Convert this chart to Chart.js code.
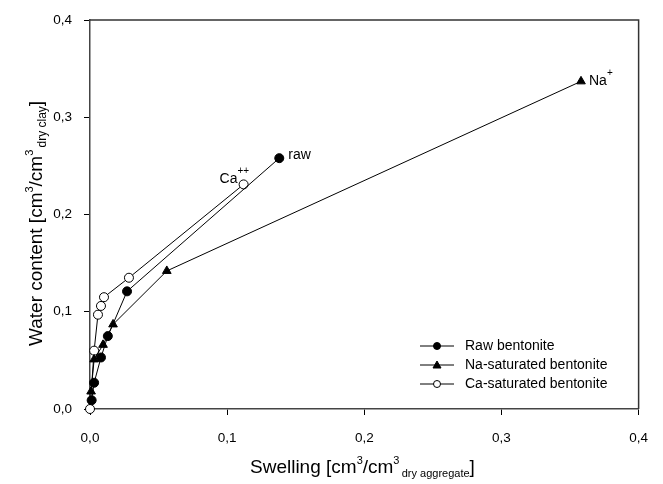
<!DOCTYPE html>
<html>
<head>
<meta charset="utf-8">
<script src="https://cdn.jsdelivr.net/npm/chart.js@4"></script>
<style>
  html, body { margin: 0; padding: 0; background: #fff; }
  #wrap { width: 663px; height: 484px; }
</style>
</head>
<body>
<div id="wrap"><canvas id="chart" width="663" height="484"></canvas></div>
<script>
// data (swelling x, water content y)
const rawX = [0.0012, 0.003, 0.008, 0.013, 0.027, 0.138];
const rawY = [0.009, 0.027, 0.053, 0.075, 0.121, 0.258];
const naX = [0.0008, 0.003, 0.0095, 0.0168, 0.056, 0.358];
const naY = [0.018, 0.051, 0.066, 0.087, 0.142, 0.337];
const caX = [0.0, 0.003, 0.0058, 0.008, 0.0102, 0.0284, 0.112];
const caY = [0.0, 0.060, 0.097, 0.106, 0.115, 0.135, 0.231];
const seriesNames = ['Raw bentonite', 'Na-saturated bentonite', 'Ca-saturated bentonite'];
const endLabels = ['raw', 'Na', 'Ca'];
const axisMin = 0, axisMax = 0.4, axisStep = 0.1;

const FONT = 'Arial, "Liberation Sans", sans-serif';

function pts(xs, ys) {
    return xs.map((x, i) => ({ x: x, y: ys[i] }));
}

// draw a run of text pieces with super/subscripts
function richText(ctx, x, y, parts) {
    parts.forEach(p => {
        ctx.font = p.size + 'px ' + FONT;
        ctx.fillText(p.t, x, y + (p.dy || 0));
        x += ctx.measureText(p.t).width;
    });
}

const extras = {
    id: 'extras',
    afterDraw(chart) {
        const ctx = chart.ctx;
        const a = chart.chartArea;
        const xs = chart.scales.x, ys = chart.scales.y;
        ctx.save();

        // top and right frame
        ctx.strokeStyle = '#333';
        ctx.lineWidth = 1.5;
        ctx.beginPath();
        ctx.moveTo(a.left, a.top);
        ctx.lineTo(a.right, a.top);
        ctx.lineTo(a.right, a.bottom);
        ctx.stroke();

        ctx.fillStyle = '#000';
        ctx.textBaseline = 'alphabetic';
        ctx.textAlign = 'left';

        // x title
        richText(ctx, 250, 473, [
            { t: 'Swelling [cm', size: 19 },
            { t: '3', size: 11, dy: -9 },
            { t: '/cm', size: 19 },
            { t: '3', size: 11, dy: -9 },
            { t: ' ', size: 8 },
            { t: 'dry aggregate', size: 11, dy: 4 },
            { t: ']', size: 19 }
        ]);

        // y title (rotated)
        ctx.save();
        ctx.translate(42, 346);
        ctx.rotate(-Math.PI / 2);
        richText(ctx, 0, 0, [
            { t: 'Water content [cm', size: 19 },
            { t: '3', size: 11, dy: -9 },
            { t: '/cm', size: 19 },
            { t: '3', size: 11, dy: -9 },
            { t: ' ', size: 8 },
            { t: 'dry clay', size: 12, dy: 4 },
            { t: ']', size: 19 }
        ]);
        ctx.restore();

        // labels at the end of each curve
        const last = i => {
            const d = chart.data.datasets[i].data;
            const p = d[d.length - 1];
            return [xs.getPixelForValue(p.x), ys.getPixelForValue(p.y)];
        };
        let [px, py] = last(0);
        richText(ctx, px + 9, py + 1, [{ t: endLabels[0], size: 14 }]);
        [px, py] = last(1);
        richText(ctx, px + 8, py + 4, [{ t: endLabels[1], size: 14 }, { t: '+', size: 10, dy: -9 }]);
        [px, py] = last(2);
        richText(ctx, px - 24, py - 1, [{ t: endLabels[2], size: 14 }, { t: '++', size: 10, dy: -9 }]);

        // legend
        const rows = [346, 365, 384];
        chart.data.datasets.forEach((ds, i) => {
            const y = rows[i];
            ctx.strokeStyle = '#000';
            ctx.lineWidth = 1;
            ctx.beginPath();
            ctx.moveTo(420, y);
            ctx.lineTo(454, y);
            ctx.stroke();
            ctx.fillStyle = ds.pointBackgroundColor;
            ctx.beginPath();
            if (ds.pointStyle === 'triangle') {
                ctx.moveTo(437, y - 4);
                ctx.lineTo(441, y + 3);
                ctx.lineTo(433, y + 3);
                ctx.closePath();
            } else {
                ctx.arc(437, y, 3.5, 0, Math.PI * 2);
            }
            ctx.fill();
            ctx.stroke();
            ctx.fillStyle = '#000';
            ctx.font = '14px ' + FONT;
            ctx.textBaseline = 'middle';
            ctx.fillText(ds.label, 465, y);
            ctx.textBaseline = 'alphabetic';
        });

        ctx.restore();
    }
};

const common = {
    showLine: true,
    borderColor: '#000',
    borderWidth: 1,
    pointBorderColor: '#000',
    pointBorderWidth: 1,
    pointRadius: 4.5,
    pointHoverRadius: 4.5,
    clip: false
};

new Chart(document.getElementById('chart').getContext('2d'), {
    type: 'scatter',
    data: {
        datasets: [
            { ...common, label: seriesNames[0], data: pts(rawX, rawY), pointStyle: 'circle', pointBackgroundColor: '#000' },
            { ...common, label: seriesNames[1], data: pts(naX, naY), pointStyle: 'triangle', pointRadius: 5, pointBackgroundColor: '#000' },
            { ...common, label: seriesNames[2], data: pts(caX, caY), pointStyle: 'circle', pointBackgroundColor: '#fff' }
        ]
    },
    options: {
        responsive: false,
        animation: false,
        events: [],
        layout: { padding: { left: 0, top: 14, right: 24, bottom: 0 } },
        plugins: {
            legend: { display: false },
            tooltip: { enabled: false },
            title: { display: false }
        },
        scales: {
            x: {
                type: 'linear',
                min: axisMin,
                max: axisMax,
                afterFit: s => { s.height = 75; },
                border: { color: '#444', width: 1.5 },
                grid: { drawOnChartArea: false, drawTicks: true, tickLength: 6, color: '#000' },
                ticks: {
                    stepSize: axisStep,
                    padding: 15,
                    color: '#000',
                    font: { family: FONT, size: 13.5 },
                    callback: v => v.toFixed(1).replace('.', ',')
                }
            },
            y: {
                type: 'linear',
                min: axisMin,
                max: axisMax,
                afterFit: s => { s.width = 90; },
                border: { color: '#444', width: 1.5 },
                grid: { drawOnChartArea: false, drawTicks: true, tickLength: 6, color: '#000' },
                ticks: {
                    stepSize: axisStep,
                    padding: 12,
                    color: '#000',
                    font: { family: FONT, size: 13.5 },
                    callback: v => v.toFixed(1).replace('.', ',')
                }
            }
        }
    },
    plugins: [extras]
});
</script>
</body>
</html>
